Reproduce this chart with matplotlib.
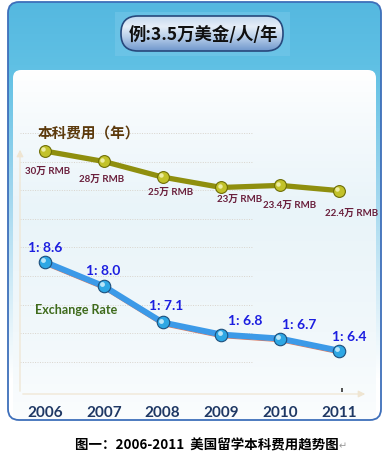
import matplotlib
matplotlib.use('Agg')
import matplotlib.pyplot as plt
import numpy as np
from matplotlib.patches import FancyBboxPatch
import matplotlib.transforms as mtransforms
from matplotlib.colors import to_rgb

# ---------------- data ----------------
years = ['2006', '2007', '2008', '2009', '2010', '2011']
cost_wan = [30, 28, 25, 23, 23.4, 22.4]
cost_labels = ['30万 RMB', '28万 RMB', '25万 RMB', '23万 RMB', '23.4万 RMB', '22.4万 RMB']
rate = [8.6, 8.0, 7.1, 6.8, 6.7, 6.4]
rate_labels = ['1: 8.6', '1: 8.0', '1: 7.1', '1: 6.8', '1: 6.7', '1: 6.4']
title_text = '例:3.5万美金/人/年'
cost_title = '本科费用（年）'
rate_title = 'Exchange Rate'
caption = '图一：2006-2011  美国留学本科费用趋势图'

# label offsets (pixels) – style only
cost_off = [(3, -19), (-2, -17), (8, -14), (18, -11), (9, -19), (13, -22)]
rate_off = [(0, 15), (-1, 16), (4, 17), (24, 15), (19, 15), (10, 15)]

W, H = 391, 460
fig = plt.figure(figsize=(W / 100, H / 100), dpi=100)
fig.patch.set_facecolor('white')

# ---------------- background (pixel coordinates) ----------------
bg = fig.add_axes([0, 0, 1, 1])
bg.set_xlim(0, W)
bg.set_ylim(H, 0)
bg.axis('off')


def vgrad(stops, n=256):
    ys = np.linspace(0, 1, n)
    pos = [s[0] for s in stops]
    cols = np.array([to_rgb(s[1]) for s in stops])
    arr = np.zeros((n, 1, 3))
    for c in range(3):
        arr[:, 0, c] = np.interp(ys, pos, cols[:, c])
    return arr


outer = FancyBboxPatch((8, 3), 373, 418, boxstyle="round,pad=0,rounding_size=11",
                       fc='none', ec='#3e6fba', lw=1.3, zorder=5)
bg.add_patch(outer)
clip_outer = FancyBboxPatch((8, 3), 373, 418, boxstyle="round,pad=0,rounding_size=11",
                            fc='none', ec='none', transform=bg.transData)
bg.add_patch(clip_outer)
im = bg.imshow(vgrad([(0, '#55b8e0'), (0.15, '#5fc0e4'), (0.45, '#9fd6ee'), (0.9, '#ffffff'), (1, '#ffffff')]),
               extent=[8, 381, 421, 3], origin='upper', aspect='auto', zorder=1)
im.set_clip_path(clip_outer)

panel = FancyBboxPatch((13, 71), 363, 360, boxstyle="round,pad=0,rounding_size=8",
                       fc='none', ec='none')
bg.add_patch(panel)
im2 = bg.imshow(vgrad([(0, '#ffffff'), (0.12, '#f7fbfd'), (0.4, '#e9f4f9'), (0.75, '#f1f8fb'), (1, '#fbfdfe')]),
                extent=[13, 376, 421, 71], origin='upper', aspect='auto', zorder=2)
im2.set_clip_path(panel)

# light band behind pill
bg.add_patch(plt.Rectangle((115, 13), 175, 44, fc='#79c9ea', ec='none', alpha=0.5, zorder=2.5))
# pill
pill = FancyBboxPatch((121, 17), 162, 35, boxstyle="round,pad=0,rounding_size=17",
                      fc='none', ec='#27487c', lw=1.2, zorder=4)
bg.add_patch(pill)
im3 = bg.imshow(vgrad([(0, '#c4d8ef'), (0.3, '#e6eef8'), (0.6, '#b8cfea'), (1, '#6f97cc')]),
                extent=[121, 283, 52, 17], origin='upper', aspect='auto', zorder=3)
im3.set_clip_path(pill)
bg.text(203, 35, title_text, ha='center', va='center', fontsize=12.5, fontweight='bold',
        family=['Noto Sans CJK SC', 'DejaVu Sans'], color='#101010', zorder=6)

# faint dotted gridlines
for k in range(9):
    yy = 134 + 28.6 * k
    bg.plot([20, 253], [yy, yy], ls=(0, (1, 1.5)), color='#d9d4cc', lw=0.7, zorder=3)
# faint axes with arrows
bg.annotate('', xy=(20, 148), xytext=(20, 395),
            arrowprops=dict(arrowstyle='-|>', color='#efe5d2', lw=0.9), zorder=3)
bg.annotate('', xy=(368, 395), xytext=(20, 395),
            arrowprops=dict(arrowstyle='-|>', color='#efe5d2', lw=0.9), zorder=3)
bg.add_patch(plt.Rectangle((341, 389), 2, 4, fc='#555555', ec='none', zorder=3))

bg.text(38, 133, cost_title, ha='left', va='center', fontsize=10.5, fontweight='bold',
        family=['Noto Sans CJK SC', 'DejaVu Sans'], color='#5c3a0c', zorder=6)
bg.text(76, 310, rate_title, ha='center', va='center', fontsize=9, fontweight='bold',
        family=['Lato', 'DejaVu Sans'], color='#3f6b1c', zorder=6)

bg.text(207, 445, caption, ha='center', va='center', fontsize=9.7, fontweight='bold',
        family=['Noto Sans CJK SC', 'DejaVu Sans'], color='#000000', zorder=6)
bg.text(339, 446, '↵', ha='left', va='center', fontsize=7, color='#999999',
        family=['DejaVu Sans'], zorder=6)

# ---------------- chart axes ----------------
L, R, T, B = 20, 370, 120, 400
ax = fig.add_axes([L / W, (H - B) / H, (R - L) / W, (B - T) / H])
ax.patch.set_alpha(0)
ax.set_xlim(-0.425, 5.527)
ax.set_ylim(-17.64, 36.16)
for s in ax.spines.values():
    s.set_visible(False)
x = np.arange(len(years))
ax.set_xticks(x)
ax.set_xticklabels(years, fontsize=11, fontweight='bold', family=['Lato', 'DejaVu Sans'],
                   color='#1f3864')
ax.tick_params(axis='x', length=0, pad=4)
ax.set_yticks([])

ax2 = ax.twinx()
ax2.patch.set_alpha(0)
ax2.set_ylim(5.201, 12.149)
for s in ax2.spines.values():
    s.set_visible(False)
ax2.set_yticks([])


def hl(a, dx=-1.3, dy=1.3):
    return mtransforms.offset_copy(a.transData, fig=fig, x=dx, y=dy, units='points')


# cost line (olive)
ax.plot(x, cost_wan, color='#8f8f0e', lw=3.8, solid_capstyle='round', zorder=3)
ax.plot(x, cost_wan, ls='none', marker='o', ms=8.5, mfc='#c2c22a', mec='#6e6e06', mew=0.8, zorder=4)
ax.plot(x, cost_wan, ls='none', marker='o', ms=3.2, mfc='#f4f4b8', mec='none', alpha=0.85,
        transform=hl(ax), zorder=5)
for xi, v, lab, (dx, dy) in zip(x, cost_wan, cost_labels, cost_off):
    ax.annotate(lab, (xi, v), xytext=(dx * 0.72, dy * 0.72), textcoords='offset points',
                ha='center', va='center', fontsize=7, fontweight='bold',
                family=['Lato', 'Noto Sans CJK SC'], color='#6a1f3c', zorder=6)

# exchange rate line (blue)
ax2.plot(x, rate, color='#e07a5f', lw=0.8, zorder=2,
         transform=mtransforms.offset_copy(ax2.transData, fig=fig, x=0, y=-2.2, units='points'))
ax2.plot(x, rate, color='#3c9ae8', lw=4.3, solid_capstyle='round', zorder=3)
ax2.plot(x, rate, ls='none', marker='o', ms=9, mfc='#2ea7e4', mec='#1d4f7c', mew=0.8, zorder=4)
ax2.plot(x, rate, ls='none', marker='o', ms=3.5, mfc='#c9ecfb', mec='none', alpha=0.9,
         transform=hl(ax2), zorder=5)
for xi, v, lab, (dx, dy) in zip(x, rate, rate_labels, rate_off):
    ax2.annotate(lab, (xi, v), xytext=(dx * 0.72, dy * 0.72), textcoords='offset points',
                 ha='center', va='center', fontsize=10, fontweight='bold',
                 family=['Lato', 'DejaVu Sans'], color='#1c1ee0', zorder=6)

fig.savefig('out.png', dpi=100)
